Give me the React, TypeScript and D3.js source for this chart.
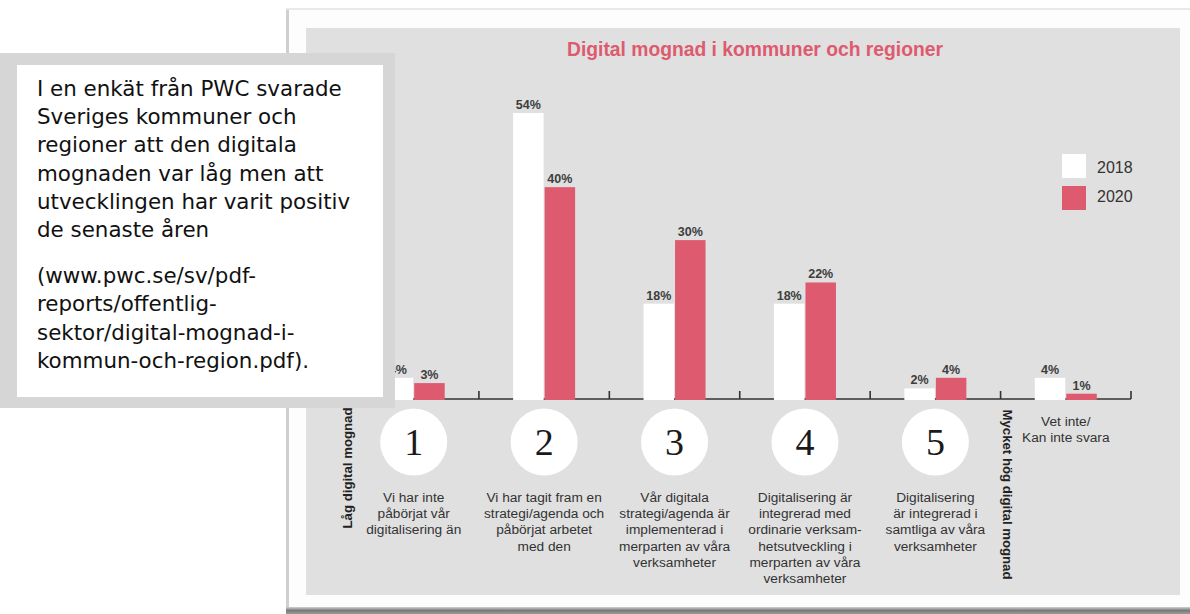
import React from "react";
import * as d3 from "d3";

const categories = ["1", "2", "3", "4", "5", "vet"];
const series = ["2018", "2020"];
const values2018 = [4, 54, 18, 18, 2, 4];
const values2020 = [3, 40, 30, 22, 4, 1];
const circleNumbers = ["1", "2", "3", "4", "5", ""];
const descriptions = [
  ["Vi har inte", "påbörjat vår", "digitalisering än"],
  ["Vi har tagit fram en", "strategi/agenda och", "påbörjat arbetet", "med den"],
  ["Vår digitala", "strategi/agenda är", "implementerad i", "merparten av våra", "verksamheter"],
  ["Digitalisering är", "integrerad med", "ordinarie verksam-", "hetsutveckling i", "merparten av våra", "verksamheter"],
  ["Digitalisering", "är integrerad i", "samtliga av våra", "verksamheter"],
  ["Vet inte/", "Kan inte svara"],
];
const title = "Digital mognad i kommuner och regioner";
const lowLabel = "Låg digital mognad";
const highLabel = "Mycket hög digital mognad";
const noteLines = [
  "I en enkät från PWC svarade",
  "Sveriges kommuner och",
  "regioner att den digitala",
  "mognaden var låg men att",
  "utvecklingen har varit positiv",
  "de senaste åren",
];
const sourceLines = [
  "(www.pwc.se/sv/pdf-",
  "reports/offentlig-",
  "sektor/digital-mognad-i-",
  "kommun-och-region.pdf).",
];

const W = 1190;
const H = 614;
const PINK = "#de5a6e";
const SANS = "'Liberation Sans', Arial, Helvetica, sans-serif";

export default function App() {
  const x = d3.scaleBand<string>().domain(categories).range([348.5, 1131]).paddingInner(0).paddingOuter(0);
  const bw = x.bandwidth();
  const xs = d3
    .scaleBand<string>()
    .domain(series)
    .range([bw / 2 - 31, bw / 2 + 31])
    .paddingInner(2 / 62);
  const y = d3.scaleLinear().domain([0, 54]).range([399, 113]);
  const colors = d3.scaleOrdinal<string, string>().domain(series).range(["#ffffff", PINK]);
  const vals = [values2018, values2020];
  const axisStart = x(categories[0])!;
  const axisEnd = x(categories[categories.length - 1])! + bw;

  return (
    <svg
      width={W}
      height={H}
      style={{ position: "absolute", left: 0, top: 0, background: "#ffffff" }}
      xmlns="http://www.w3.org/2000/svg"
    >
      <defs>
        <linearGradient id="shadowB" x1="0" y1="0" x2="0" y2="1">
          <stop offset="0" stopColor="#d0d0d0" />
          <stop offset="0.5" stopColor="#7a7a7a" />
          <stop offset="1" stopColor="#9a9a9a" />
        </linearGradient>
      </defs>
      {/* card */}
      <rect x={287} y={9} width={W} height={603} fill="#fdfdfd" stroke="#e2e2e2" strokeWidth={1.5} />
      <rect x={286} y={10} width={3} height={600} fill="#cfcfcf" />
      <rect x={286} y={607} width={W} height={7} fill="url(#shadowB)" />
      {/* chart panel */}
      <rect x={306} y={28} width={874} height={567} fill="#e0e0e0" />

      <text
        x={755}
        y={56}
        textAnchor="middle"
        fontFamily={SANS}
        fontWeight="bold"
        fontSize={19.3}
        fill={PINK}
      >
        {title}
      </text>

      {/* axis */}
      <line x1={axisStart} x2={axisEnd} y1={y(0)} y2={y(0)} stroke="#333" strokeWidth={1.6} />
      {categories.map((c) => (
        <line
          key={"t" + c}
          x1={x(c)! + bw}
          x2={x(c)! + bw}
          y1={y(0)}
          y2={y(0) - 8}
          stroke="#333"
          strokeWidth={1.6}
        />
      ))}

      {/* bars */}
      {categories.map((c, i) =>
        series.map((s, j) => {
          const v = vals[j][i];
          const bx = x(c)! + xs(s)!;
          return (
            <g key={c + s}>
              <rect
                x={bx}
                y={y(v)}
                width={xs.bandwidth()}
                height={y(0) - y(v) + 1}
                fill={colors(s)}
              />
              <text
                x={bx + xs.bandwidth() / 2}
                y={y(v) - 4}
                textAnchor="middle"
                fontFamily={SANS}
                fontWeight="bold"
                fontSize={12.5}
                fill="#3d3d3d"
              >
                {v + "%"}
              </text>
            </g>
          );
        })
      )}

      {/* legend */}
      {series.map((s, j) => (
        <g key={"lg" + s}>
          <rect x={1062} y={154 + j * 32} width={24} height={24} fill={colors(s)} />
          <text x={1097} y={173 + j * 29} fontFamily={SANS} fontSize={16} fill="#333">
            {s}
          </text>
        </g>
      ))}

      {/* circles & descriptions */}
      {categories.map((c, i) => {
        const cx = x(c)! + bw / 2;
        const hasCircle = circleNumbers[i] !== "";
        const startY = hasCircle ? 502 : 426;
        return (
          <g key={"d" + c}>
            {hasCircle && (
              <>
                <circle cx={cx} cy={442} r={33.5} fill="#ffffff" />
                <text
                  x={cx}
                  y={455}
                  textAnchor="middle"
                  fontFamily="'Liberation Serif', 'DejaVu Serif', serif"
                  fontSize={38}
                  fill="#1a1a1a"
                >
                  {circleNumbers[i]}
                </text>
              </>
            )}
            {descriptions[i].map((line, k) => (
              <text
                key={k}
                x={cx}
                y={startY + k * 16.2}
                textAnchor="middle"
                fontFamily={SANS}
                fontSize={13.7}
                fill="#333"
              >
                {line}
              </text>
            ))}
          </g>
        );
      })}

      {/* vertical labels */}
      <text
        transform={`translate(352,468) rotate(-90)`}
        textAnchor="middle"
        fontFamily={SANS}
        fontWeight="bold"
        fontSize={13.2}
        fill="#222"
      >
        {lowLabel}
      </text>
      <text
        transform={`translate(1003,494.5) rotate(90)`}
        textAnchor="middle"
        fontFamily={SANS}
        fontWeight="bold"
        fontSize={13.2}
        fill="#222"
      >
        {highLabel}
      </text>

      {/* note box */}
      <rect x={-5} y={53} width={400} height={355} fill="#d6d6d6" />
      <rect x={17} y={65} width={366} height={332} fill="#ffffff" />
      {noteLines.map((l, k) => (
        <text
          key={"n" + k}
          x={37}
          y={96 + k * 28.2}
          fontFamily="'DejaVu Sans', Verdana, sans-serif"
          fontSize={21.4}
          fill="#111"
        >
          {l}
        </text>
      ))}
      {sourceLines.map((l, k) => (
        <text
          key={"s" + k}
          x={37}
          y={283 + k * 28.3}
          fontFamily="'DejaVu Sans', Verdana, sans-serif"
          fontSize={21.4}
          fill="#111"
        >
          {l}
        </text>
      ))}
    </svg>
  );
}
